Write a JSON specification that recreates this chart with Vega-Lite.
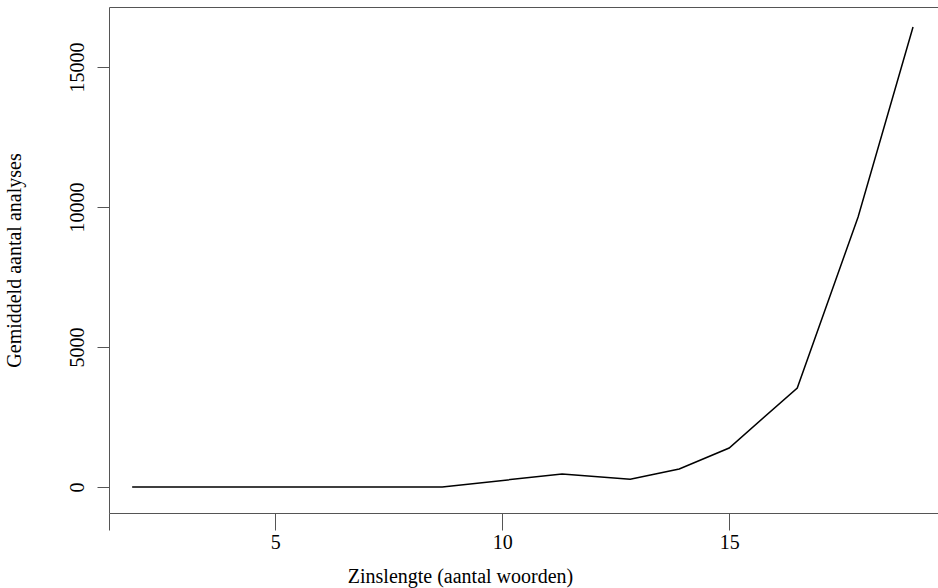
{
  "$schema": "https://vega.github.io/schema/vega-lite/v6.json",
  "autosize": "none",
  "width": 829,
  "height": 506,
  "padding": {"left": 109, "top": 7, "right": 0, "bottom": 75},
  "background": "white",
  "config": {
    "view": {"stroke": "#555555", "strokeWidth": 1},
    "font": "Liberation Serif",
    "axis": {
      "labelFont": "Liberation Serif",
      "titleFont": "Liberation Serif",
      "labelFontSize": 20,
      "titleFontSize": 20,
      "titleFontWeight": "normal",
      "labelColor": "#000000",
      "titleColor": "#000000",
      "domainColor": "#555555",
      "tickColor": "#555555",
      "grid": false
    }
  },
  "data": {
    "values": [
      {"x": 1.85, "y": 0},
      {"x": 8.68, "y": 0},
      {"x": 11.32, "y": 464},
      {"x": 12.82, "y": 275},
      {"x": 13.9, "y": 643},
      {"x": 15.0, "y": 1393},
      {"x": 16.5, "y": 3536},
      {"x": 17.84, "y": 9643},
      {"x": 19.05, "y": 16429}
    ]
  },
  "mark": {"type": "line", "color": "#000000", "strokeWidth": 1.5},
  "encoding": {
    "x": {
      "field": "x",
      "type": "quantitative",
      "scale": {"domain": [1.34, 19.6], "nice": false, "zero": false},
      "axis": {
        "title": "Zinslengte (aantal woorden)",
        "values": [1.34, 5, 10, 15],
        "labelExpr": "datum.value < 2 ? '' : datum.label",
        "format": "d",
        "tickSize": 17,
        "labelPadding": 2,
        "titlePadding": 14,
        "titleX": 351,
        "titleAlign": "center",
        "labelFlush": false,
        "domain": false
      }
    },
    "y": {
      "field": "y",
      "type": "quantitative",
      "scale": {"domain": [-929, 17143], "nice": false, "zero": false},
      "axis": {
        "title": "Gemiddeld aantal analyses",
        "values": [0, 5000, 10000, 15000],
        "format": "d",
        "tickSize": 12,
        "labelAngle": 270,
        "labelAlign": "center",
        "labelBaseline": "bottom",
        "labelPadding": 10,
        "titlePadding": 43,
        "labelFlush": false,
        "domain": false
      }
    }
  }
}
